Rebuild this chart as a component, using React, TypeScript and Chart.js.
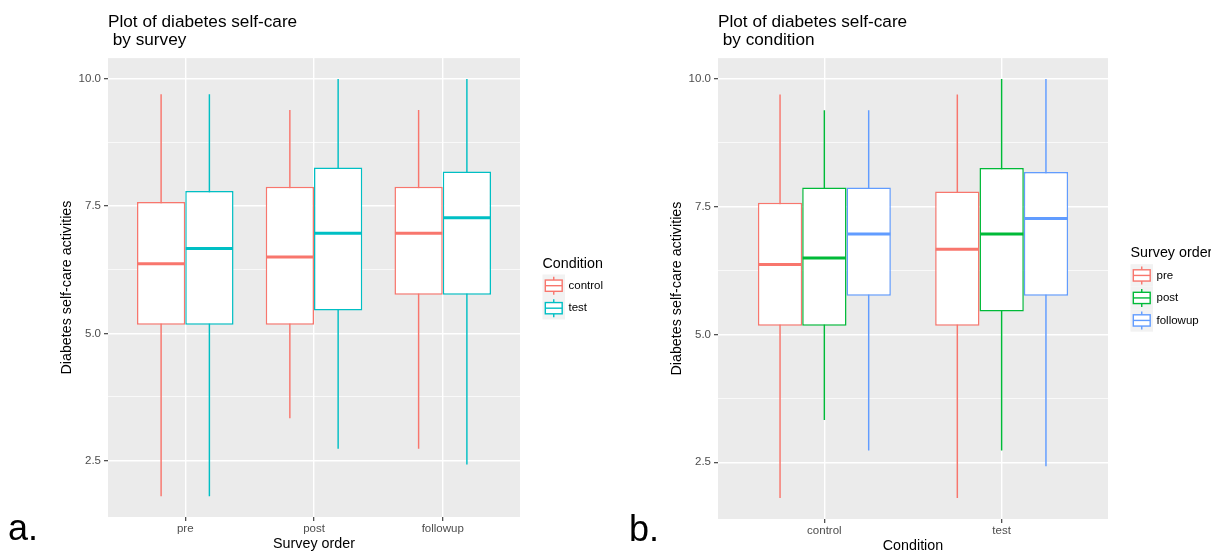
import React, { useEffect, useRef } from 'react';
import { Chart, registerables } from 'chart.js';

Chart.register(...registerables);

// ---------- data ----------
const surveyOrder = ['pre', 'post', 'followup'];
const conditions = ['control', 'test'];

// five-number summaries, one value per survey order (pre, post, followup)
const controlMin = [1.8, 3.33, 2.73];
const controlQ1 = [5.17, 5.17, 5.76];
const controlMedian = [6.37, 6.5, 6.97];
const controlQ3 = [7.58, 7.88, 7.88];
const controlMax = [9.7, 9.39, 9.39];

const testMin = [1.8, 2.73, 2.42];
const testQ1 = [5.17, 5.45, 5.76];
const testMedian = [6.67, 6.97, 7.27];
const testQ3 = [7.8, 8.26, 8.18];
const testMax = [9.7, 10, 10];

const majorTicks = [2.5, 5, 7.5, 10];
const minorTicks = [3.75, 6.25, 8.75];

const conditionColors = ['#F8766D', '#00BFC4'];
const surveyColors = ['#F8766D', '#00BA38', '#619CFF'];

// ---------- helpers ----------
const FONT = "'Liberation Sans', Arial, Helvetica, sans-serif";

type Stat = { min: number[]; q1: number[]; med: number[]; q3: number[]; max: number[] };
type Series = Stat & { label: string; color: string };

const statsByCondition: Record<string, Stat> = {
  control: { min: controlMin, q1: controlQ1, med: controlMedian, q3: controlQ3, max: controlMax },
  test: { min: testMin, q1: testQ1, med: testMedian, q3: testQ3, max: testMax },
};

const allMins = [...controlMin, ...testMin];
const allMaxs = [...controlMax, ...testMax];
const dataLo = Math.min(...allMins);
const dataHi = Math.max(...allMaxs);
const yPad = (dataHi - dataLo) * 0.05;

interface PanelSpec {
  width: number;
  title: string[];
  xTitle: string;
  categories: string[];
  series: Series[];
  legendTitle: string;
  padRight: number;
  xHeight: number;
  xTitleLH: number;
  whiskerFrac: number;
  tag: string;
  tagX: number;
  tagY: number;
}

const panelA: PanelSpec = {
  width: 610,
  title: ['Plot of diabetes self-care', ' by survey'],
  xTitle: 'Survey order',
  categories: surveyOrder,
  series: conditions.map((c, i) => ({ label: c, color: conditionColors[i], ...statsByCondition[c] })),
  legendTitle: 'Condition',
  padRight: 90,
  xHeight: 35,
  xTitleLH: 1.0,
  whiskerFrac: 0.03,
  tag: 'a.',
  tagX: 8,
  tagY: 540,
};

const panelB: PanelSpec = {
  width: 601,
  title: ['Plot of diabetes self-care', ' by condition'],
  xTitle: 'Condition',
  categories: conditions,
  series: surveyOrder.map((s, j) => ({
    label: s,
    color: surveyColors[j],
    min: conditions.map((c) => statsByCondition[c].min[j]),
    q1: conditions.map((c) => statsByCondition[c].q1[j]),
    med: conditions.map((c) => statsByCondition[c].med[j]),
    q3: conditions.map((c) => statsByCondition[c].q3[j]),
    max: conditions.map((c) => statsByCondition[c].max[j]),
  })),
  legendTitle: 'Survey order',
  padRight: 103,
  xHeight: 33,
  xTitleLH: 0.75,
  whiskerFrac: 0.033,
  tag: 'b.',
  tagX: 19,
  tagY: 541,
};

function buildConfig(p: PanelSpec): any {
  const boxes = p.series.map((s) => ({
    type: 'bar',
    label: s.label,
    stack: s.label,
    isBox: true,
    medians: s.med,
    data: s.q1.map((q, i) => ({ x: i + 1, y: [q, s.q3[i]] })),
    backgroundColor: '#FFFFFF',
    borderColor: s.color,
    borderWidth: 1.5,
    borderSkipped: false,
    inflateAmount: 0,
    barPercentage: 1,
    categoryPercentage: 0.75,
  }));
  const whiskers = p.series.map((s) => ({
    type: 'bar',
    label: s.label + ' whisker',
    stack: s.label,
    data: s.min.map((m, i) => ({ x: i + 1, y: [m, s.max[i]] })),
    backgroundColor: s.color,
    borderWidth: 0,
    inflateAmount: 0,
    barPercentage: p.whiskerFrac,
    categoryPercentage: 0.75,
  }));

  const bgPlugin = {
    id: 'ggBackground',
    beforeDraw(chart: any) {
      const { ctx, chartArea: a } = chart;
      ctx.save();
      ctx.fillStyle = '#FFFFFF';
      ctx.fillRect(0, 0, chart.width, chart.height);
      ctx.fillStyle = '#EBEBEB';
      ctx.fillRect(a.left, a.top, a.right - a.left, a.bottom - a.top);
      ctx.restore();
    },
  };

  const medianPlugin = {
    id: 'ggMedian',
    afterDatasetsDraw(chart: any) {
      const { ctx } = chart;
      const yScale = chart.scales.y;
      ctx.save();
      chart.data.datasets.forEach((ds: any, di: number) => {
        if (!ds.isBox) return;
        const meta = chart.getDatasetMeta(di);
        meta.data.forEach((el: any, j: number) => {
          const { x, width } = el.getProps(['x', 'width'], true);
          const y = yScale.getPixelForValue(ds.medians[j]);
          ctx.strokeStyle = ds.borderColor;
          ctx.lineWidth = 3;
          ctx.beginPath();
          ctx.moveTo(x - width / 2 + 0.5, y);
          ctx.lineTo(x + width / 2 - 0.5, y);
          ctx.stroke();
        });
      });
      ctx.restore();
    },
  };

  const legendPlugin = {
    id: 'ggLegend',
    afterDraw(chart: any) {
      const { ctx, chartArea: a } = chart;
      const key = 22.5;
      const titleH = 18.75;
      const n = p.series.length;
      const total = titleH + n * key;
      const top = (a.top + a.bottom) / 2 - total / 2;
      const left = a.right + 22.5;
      ctx.save();
      ctx.fillStyle = '#000000';
      ctx.textBaseline = 'middle';
      ctx.textAlign = 'left';
      ctx.font = `14.3px ${FONT}`;
      ctx.fillText(p.legendTitle, left, top + 8);
      p.series.forEach((s, i) => {
        const ky = top + titleH + i * key;
        ctx.fillStyle = '#F2F2F2';
        ctx.fillRect(left, ky, key, key);
        ctx.strokeStyle = s.color;
        ctx.lineWidth = 1.4;
        const cx = left + key / 2;
        ctx.beginPath();
        ctx.moveTo(cx, ky + 0.1 * key);
        ctx.lineTo(cx, ky + 0.25 * key);
        ctx.moveTo(cx, ky + 0.75 * key);
        ctx.lineTo(cx, ky + 0.9 * key);
        ctx.stroke();
        ctx.fillStyle = '#FFFFFF';
        ctx.fillRect(left + 0.125 * key, ky + 0.25 * key, 0.75 * key, 0.5 * key);
        ctx.strokeRect(left + 0.125 * key, ky + 0.25 * key, 0.75 * key, 0.5 * key);
        ctx.beginPath();
        ctx.moveTo(left + 0.125 * key, ky + 0.5 * key);
        ctx.lineTo(left + 0.875 * key, ky + 0.5 * key);
        ctx.stroke();
        ctx.fillStyle = '#000000';
        ctx.font = `11.5px ${FONT}`;
        ctx.fillText(s.label, left + key + 3.5, ky + key / 2);
      });
      // panel tag
      ctx.font = `36px ${FONT}`;
      ctx.textBaseline = 'alphabetic';
      ctx.fillStyle = '#000000';
      ctx.fillText(p.tag, p.tagX, p.tagY);
      ctx.restore();
    },
  };

  const isMajor = (v: number) => majorTicks.some((m) => Math.abs(m - v) < 1e-9);

  return {
    type: 'bar',
    data: { datasets: [...boxes, ...whiskers] },
    plugins: [bgPlugin, medianPlugin, legendPlugin],
    options: {
      responsive: false,
      animation: false,
      events: [],
      layout: { padding: { left: 50, right: p.padRight, top: 0, bottom: 0 } },
      plugins: {
        legend: { display: false },
        tooltip: { enabled: false },
        title: {
          display: true,
          text: p.title,
          align: 'start',
          fullSize: false,
          color: '#000000',
          font: { family: FONT, size: 17.2, weight: 'normal', lineHeight: 1.05 },
          padding: { top: 13, bottom: 9 },
        },
      },
      scales: {
        x: {
          type: 'linear',
          min: 0.4,
          max: p.categories.length + 0.6,
          offset: false,
          afterBuildTicks: (s: any) => {
            s.ticks = p.categories.map((_, i) => ({ value: i + 1 }));
          },
          afterFit: (s: any) => {
            s.height = p.xHeight;
          },
          ticks: {
            callback: (v: number) => p.categories[Math.round(v) - 1] ?? '',
            color: '#4D4D4D',
            font: { family: FONT, size: 11.5 },
            padding: 1,
            maxRotation: 0,
            autoSkip: false,
          },
          grid: {
            offset: false,
            color: '#FFFFFF',
            lineWidth: 1.4,
            tickColor: '#333333',
            tickLength: 4,
            tickWidth: 1.1,
          },
          border: { display: false },
          title: {
            display: true,
            text: p.xTitle,
            color: '#000000',
            font: { family: FONT, size: 14.3, lineHeight: p.xTitleLH },
            padding: { top: 0, bottom: 1 },
          },
        },
        y: {
          type: 'linear',
          stacked: false,
          min: dataLo - yPad,
          max: dataHi + yPad,
          afterBuildTicks: (s: any) => {
            s.ticks = [...majorTicks, ...minorTicks].sort((a, b) => a - b).map((v) => ({ value: v }));
          },
          afterFit: (s: any) => {
            s.width = 58;
          },
          ticks: {
            callback: (v: number) => (isMajor(v) ? v.toFixed(1) : ''),
            color: '#4D4D4D',
            font: { family: FONT, size: 11.5 },
            padding: 3,
            autoSkip: false,
          },
          grid: {
            color: '#FFFFFF',
            lineWidth: (c: any) => (c.tick && isMajor(c.tick.value) ? 1.4 : 0.7),
            tickColor: (c: any) => (c.tick && isMajor(c.tick.value) ? '#333333' : 'rgba(0,0,0,0)'),
            tickLength: 4,
            tickWidth: 1.1,
          },
          border: { display: false },
          title: {
            display: true,
            text: 'Diabetes self-care activities',
            color: '#000000',
            font: { family: FONT, size: 14.3, lineHeight: 1 },
            padding: { top: 10, bottom: 0 },
          },
        },
      },
    },
  };
}

function Panel({ spec }: { spec: PanelSpec }) {
  const ref = useRef<HTMLCanvasElement>(null);
  useEffect(() => {
    if (!ref.current) return;
    const chart = new Chart(ref.current, buildConfig(spec));
    return () => chart.destroy();
  }, [spec]);
  return (
    <canvas
      ref={ref}
      width={spec.width}
      height={552}
      style={{ display: 'block', width: spec.width, height: 552 }}
    />
  );
}

export default function App() {
  return (
    <div
      style={{
        position: 'absolute',
        left: 0,
        top: 0,
        width: 1211,
        height: 552,
        display: 'flex',
        background: '#FFFFFF',
      }}
    >
      <Panel spec={panelA} />
      <Panel spec={panelB} />
    </div>
  );
}
